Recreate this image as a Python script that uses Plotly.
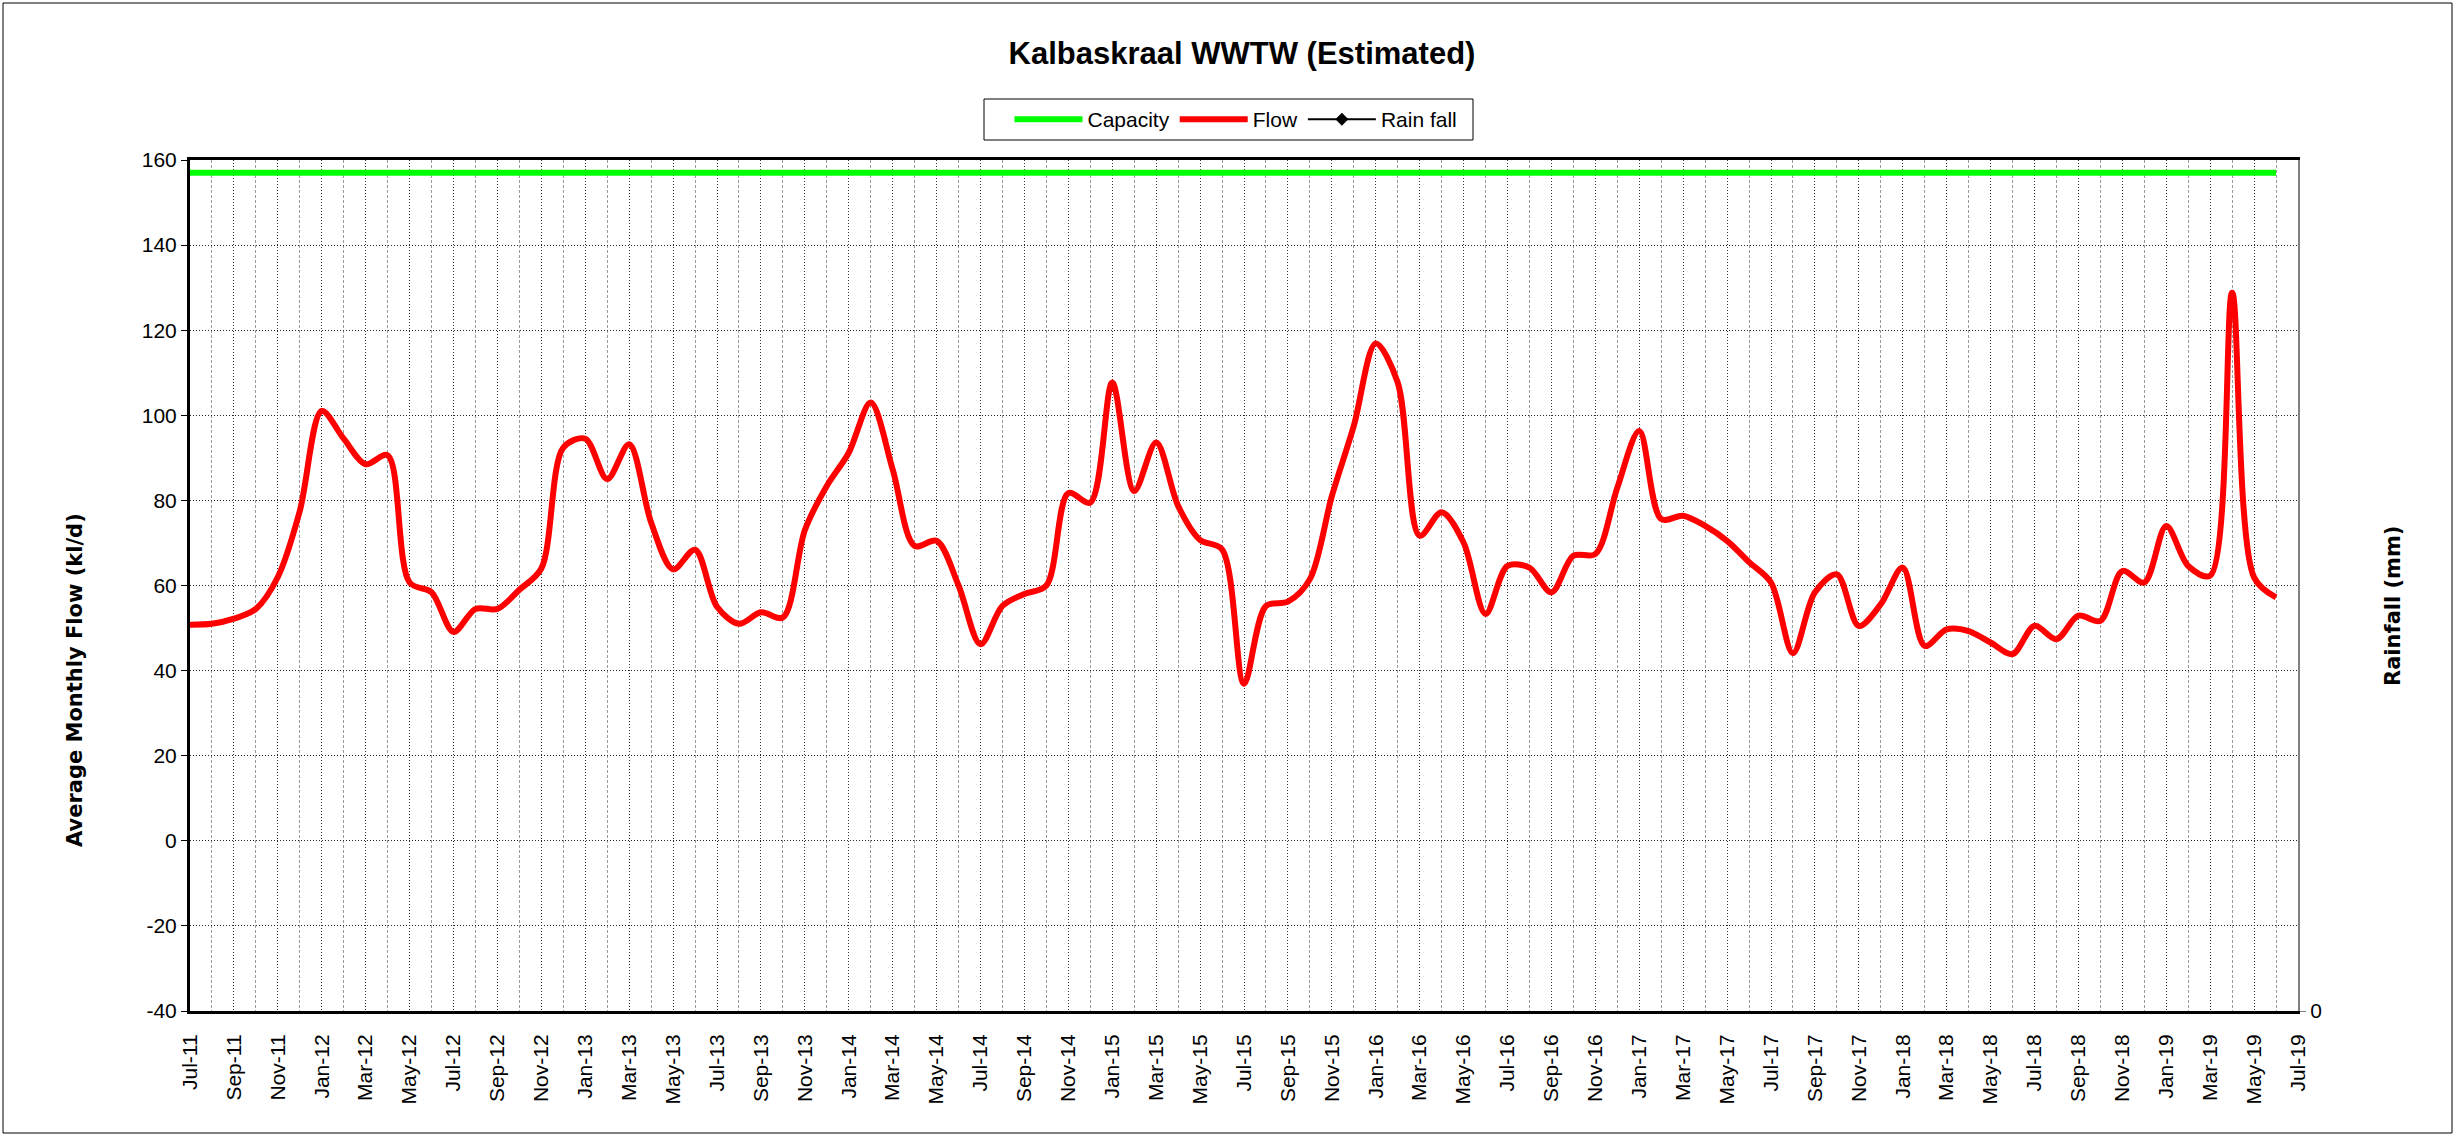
import plotly.graph_objects as go

# ---------------- data ----------------
tick_labels = [
    "Jul-11", "Sep-11", "Nov-11",
    "Jan-12", "Mar-12", "May-12", "Jul-12", "Sep-12", "Nov-12",
    "Jan-13", "Mar-13", "May-13", "Jul-13", "Sep-13", "Nov-13",
    "Jan-14", "Mar-14", "May-14", "Jul-14", "Sep-14", "Nov-14",
    "Jan-15", "Mar-15", "May-15", "Jul-15", "Sep-15", "Nov-15",
    "Jan-16", "Mar-16", "May-16", "Jul-16", "Sep-16", "Nov-16",
    "Jan-17", "Mar-17", "May-17", "Jul-17", "Sep-17", "Nov-17",
    "Jan-18", "Mar-18", "May-18", "Jul-18", "Sep-18", "Nov-18",
    "Jan-19", "Mar-19", "May-19", "Jul-19",
]
y_tick_values = [-40, -20, 0, 20, 40, 60, 80, 100, 120, 140, 160]
y_tick_labels = ["-40", "-20", "0", "20", "40", "60", "80", "100", "120", "140", "160"]

# monthly average flow (kl/d), Jul-11 .. Jun-19
flow = [
    50.8, 51.0, 52.2, 54.5, 62.0, 77.5, 101.0, 94.5, 88.5, 90.6, 60.7, 58.4,   # Jul-11 .. Jun-12
    49.1, 54.5, 54.5, 59.0, 64.0, 92.4, 94.5, 85.0, 93.2, 74.8, 63.8, 68.4,    # Jul-12 .. Jun-13
    55.0, 51.0, 53.7, 52.5, 73.0, 83.4, 91.2, 103.0, 87.3, 69.3, 70.5, 60.0,   # Jul-13 .. Jun-14
    46.2, 55.2, 58.0, 60.0, 81.7, 79.5, 107.7, 82.2, 93.6, 78.7, 70.7, 68.5,   # Jul-14 .. Jun-15
    36.9, 55.2, 56.2, 61.5, 81.0, 97.5, 116.9, 107.7, 71.7, 77.2, 70.1, 53.3,  # Jul-15 .. Jun-16
    64.6, 64.2, 58.4, 67.0, 67.4, 83.0, 96.3, 75.6, 76.4, 74.0, 70.5, 65.5,    # Jul-16 .. Jun-17
    60.7, 44.1, 58.4, 62.6, 50.5, 55.6, 64.2, 45.8, 49.7, 49.3, 46.6, 43.9,    # Jul-17 .. Jun-18
    50.5, 47.4, 52.9, 51.7, 63.4, 60.7, 74.0, 64.6, 62.3, 128.8, 61.9, 57.2,   # Jul-18 .. Jun-19
]
capacity_value = 157
n_months = len(flow)
capacity = [capacity_value] * n_months
month_idx = list(range(n_months))
rainfall = [None] * n_months

# ---------------- figure ----------------
FONT = "Liberation Sans, Arial, sans-serif"
WIDE_BOLD = "DejaVu Sans, Verdana, sans-serif"

fig = go.Figure()
fig.add_trace(go.Scatter(
    x=month_idx, y=capacity, name="Capacity", mode="lines",
    line=dict(color="#00FF00", width=6)))
fig.add_trace(go.Scatter(
    x=month_idx, y=flow, name="Flow", mode="lines",
    line=dict(color="#FF0000", width=6, shape="spline", smoothing=0.9)))
fig.add_trace(go.Scatter(
    x=month_idx, y=rainfall, name="Rain fall", mode="lines+markers",
    line=dict(color="black", width=2),
    marker=dict(symbol="diamond", size=10, color="black"),
    yaxis="y2"))

L, R, T, B = 190, 160, 160, 126
W, H = 2458, 1137
pw, ph = W - L - R, H - T - B


def px_x(px):
    return (px - L) / pw


def px_y(py):
    return (H - B - py) / ph


fig.update_layout(
    width=W, height=H,
    margin=dict(l=L, r=R, t=T, b=B, pad=0),
    paper_bgcolor="white", plot_bgcolor="white",
    font=dict(family=FONT, size=21, color="black"),
    showlegend=True,
    title=dict(text="<b>Kalbaskraal WWTW (Estimated)</b>",
               font=dict(family=FONT, size=31, color="black"),
               xref="container", x=1242 / W, xanchor="center",
               yref="container", y=1 - 53 / H, yanchor="middle"),
    legend=dict(orientation="h", x=px_x(1236), xanchor="center",
                y=px_y(99), yanchor="top",
                borderwidth=0, bgcolor="rgba(0,0,0,0)",
                font=dict(family=FONT, size=21, color="black"),
                itemwidth=68, tracegroupgap=0),
    xaxis=dict(
        range=[0, n_months],
        tickmode="array",
        tickvals=list(range(0, n_months + 1, 2)),
        ticktext=tick_labels,
        tickangle=-90,
        ticks="",
        ticklabelstandoff=12,
        tickfont=dict(family=FONT, size=21),
        showgrid=True, gridcolor="#333333", gridwidth=1, griddash="1px,2px",
        minor=dict(tickmode="array", tickvals=list(range(1, n_months, 2)),
                   showgrid=True, gridcolor="#9a9a9a", gridwidth=1,
                   griddash="3px,2px", ticks=""),
        showline=True, linecolor="black", linewidth=3, mirror=True,
        zeroline=False,
    ),
    yaxis=dict(
        range=[-40, 160],
        tickmode="array", tickvals=y_tick_values, ticktext=y_tick_labels,
        ticks="outside", ticklen=6, tickcolor="black", tickwidth=1,
        tickfont=dict(family=FONT, size=21),
        showgrid=True, gridcolor="#222222", gridwidth=1, griddash="1px,2px",
        showline=True, linecolor="black", linewidth=3,
        zeroline=False,
    ),
    yaxis2=dict(
        overlaying="y", side="right",
        range=[0, 1], tickmode="array", tickvals=[0], ticktext=["0"],
        ticks="outside", ticklen=6, tickcolor="#808080",
        tickfont=dict(family=FONT, size=21),
        showgrid=False, zeroline=False,
        showline=True, linecolor="#808080", linewidth=2,
    ),
    annotations=[
        dict(text="<b>Average Monthly Flow (kl/d)</b>", textangle=-90,
             xref="paper", yref="paper", x=px_x(75), y=px_y(680),
             xanchor="center", yanchor="middle", showarrow=False,
             font=dict(family=WIDE_BOLD, size=21, color="black")),
        dict(text="<b>Rainfall (mm)</b>", textangle=-90,
             xref="paper", yref="paper", x=px_x(2393), y=px_y(606),
             xanchor="center", yanchor="middle", showarrow=False,
             font=dict(family=WIDE_BOLD, size=21, color="black")),
    ],
    shapes=[
        # chart-area border
        dict(type="rect", xref="paper", yref="paper",
             x0=px_x(3), x1=px_x(2452), y0=px_y(1133), y1=px_y(3),
             line=dict(color="black", width=1), fillcolor="rgba(0,0,0,0)",
             layer="below"),
        # legend box
        dict(type="rect", xref="paper", yref="paper",
             x0=px_x(984), x1=px_x(1473), y0=px_y(140), y1=px_y(99),
             line=dict(color="black", width=1), fillcolor="white",
             layer="below"),
    ],
)

fig.write_html("out.html",
               config={"displayModeBar": False},
               post_script="document.body.style.margin='0';document.body.style.overflow='hidden';")
